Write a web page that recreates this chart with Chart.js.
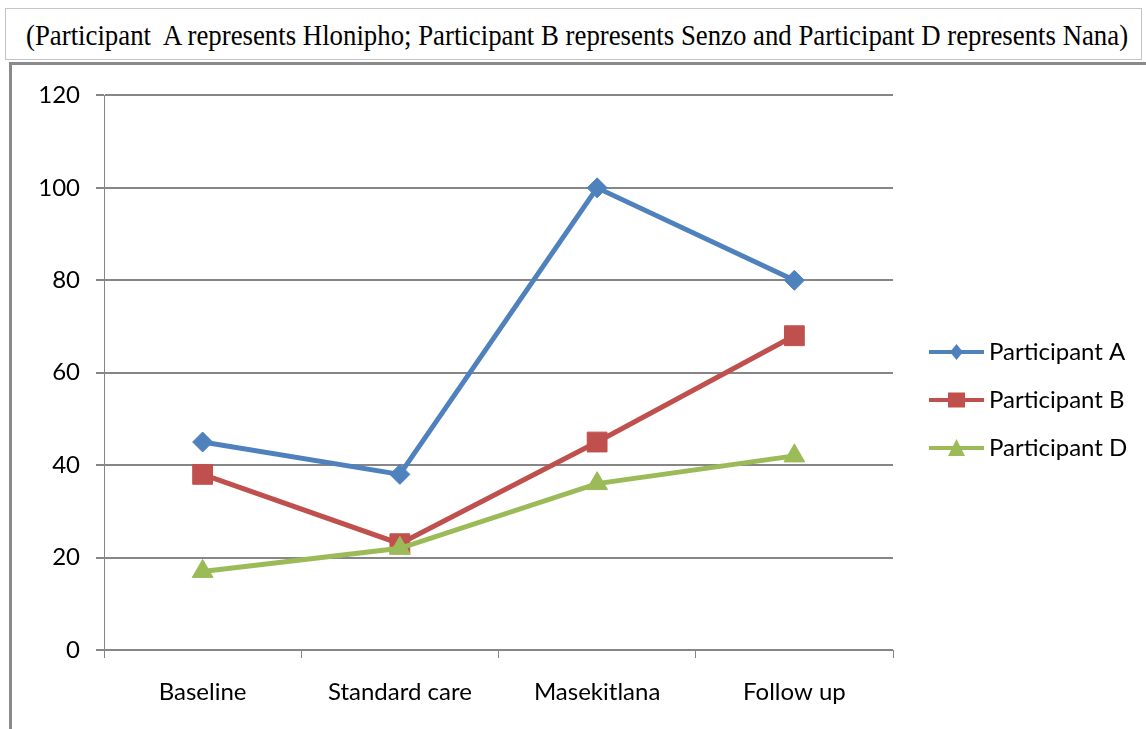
<!DOCTYPE html>
<html>
<head>
<meta charset="utf-8">
<script src="https://cdn.jsdelivr.net/npm/chart.js@4.4.1/dist/chart.umd.min.js"></script>
<style>
    body { margin: 0; background: #fff; width: 1146px; height: 729px; overflow: hidden; position: relative; }
    #caption {
        position: absolute; left: 5px; top: 8px; width: 1137px; height: 52px;
        box-sizing: border-box; border: 1px solid #c4c4c4;
        color: #000;
    }
    #caption span {
        position: absolute; left: 20px; top: 11px;
        font-family: "Liberation Serif", serif; font-size: 26.8px; line-height: 30px;
        white-space: pre; transform: scaleY(1.12); transform-origin: 0 50%;
    }
    #box { position: absolute; left: 9px; top: 62px; right: 0; bottom: 0; border-left: 3px solid #8a8a8a; border-top: 3px solid #8a8a8a; }
    #wrap { position: absolute; left: 12px; top: 65px; width: 1134px; height: 664px; }
</style>
</head>
<body>
<div id="caption"><span>(Participant  A represents Hlonipho; Participant B represents Senzo and Participant D represents Nana)</span></div>
<div id="box"></div>
<div id="wrap"><canvas id="chart"></canvas></div>
<script>
const categories = ['Baseline', 'Standard care', 'Masekitlana', 'Follow up'];
const seriesNames = ['Participant A', 'Participant B', 'Participant D'];
const participantA = [45, 38, 100, 80];
const participantB = [38, 23, 45, 68];
const participantD = [17, 22, 36, 42];
const yTicks = [0, 20, 40, 60, 80, 100, 120];

const colors = ['#4F81BD', '#C0504D', '#9BBB59'];
const fontFamily = 'Lato, "Noto Sans", sans-serif';
const fontSize = 24;

// legend symbol: short thick line with the marker in the middle
function legendSymbol(color, shape) {
    const c = document.createElement('canvas');
    c.width = 74;
    c.height = 22;
    const ctx = c.getContext('2d');
    ctx.strokeStyle = color;
    ctx.fillStyle = color;
    ctx.lineWidth = 4;
    ctx.beginPath();
    ctx.moveTo(19, 11);
    ctx.lineTo(74, 11);
    ctx.stroke();
    const cx = 46.5, cy = 11;
    ctx.beginPath();
    if (shape === 'diamond') {
        ctx.moveTo(cx, cy - 8); ctx.lineTo(cx + 6.5, cy); ctx.lineTo(cx, cy + 8); ctx.lineTo(cx - 6.5, cy);
    } else if (shape === 'square') {
        ctx.rect(cx - 8.5, cy - 7.5, 17, 15);
    } else {
        ctx.moveTo(cx, cy - 9); ctx.lineTo(cx + 8.5, cy + 8); ctx.lineTo(cx - 8.5, cy + 8);
    }
    ctx.closePath();
    ctx.fill();
    return c;
}
const symbols = [legendSymbol(colors[0], 'diamond'), legendSymbol(colors[1], 'square'), legendSymbol(colors[2], 'triangle')];

// width of the longest legend text so the plot keeps its right edge
const measureCtx = document.createElement('canvas').getContext('2d');
measureCtx.font = fontSize + 'px ' + fontFamily;
const legendTextWidth = Math.max(...seriesNames.map(n => measureCtx.measureText(n).width));

function drawChart() {
    const chartCtx = document.getElementById('chart').getContext('2d');

    const makeSet = (i, data, style, radius) => ({
        label: seriesNames[i],
        data,
        borderColor: colors[i],
        backgroundColor: colors[i],
        borderWidth: 5,
        pointStyle: style,
        pointRadius: radius,
        pointBorderWidth: 1,
        pointBorderColor: colors[i],
        pointBackgroundColor: colors[i],
        order: 3 - i
    });

    new Chart(chartCtx, {
        type: 'line',
        data: {
            labels: categories,
            datasets: [
                makeSet(0, participantA, 'rectRot', 10),
                makeSet(1, participantB, 'rect', 14),
                makeSet(2, participantD, 'triangle', 12)
            ]
        },
        options: {
            responsive: true,
            maintainAspectRatio: false,
            animation: false,
            events: [],
            layout: {
                padding: { top: 28, left: 0, bottom: 22, right: 147 - legendTextWidth }
            },
            elements: {
                line: { tension: 0 }
            },
            plugins: {
                tooltip: { enabled: false },
                legend: {
                    position: 'right',
                    labels: {
                        usePointStyle: true,
                        pointStyleWidth: 60,
                        padding: 24,
                        color: '#000',
                        font: { family: fontFamily, size: fontSize },
                        sort: (a, b) => a.datasetIndex - b.datasetIndex,
                        generateLabels(chart) {
                            const items = Chart.defaults.plugins.legend.labels.generateLabels(chart);
                            items.forEach(item => { item.pointStyle = symbols[item.datasetIndex]; });
                            return items;
                        }
                    }
                }
            },
            scales: {
                x: {
                    offset: true,
                    grid: { offset: true, drawOnChartArea: false, tickLength: 8, color: '#868686', lineWidth: 1 },
                    border: { display: true, color: '#868686', width: 1 },
                    ticks: { color: '#000', padding: 20, maxRotation: 0, font: { family: fontFamily, size: fontSize } },
                    afterFit: scale => { scale.height = 57; }
                },
                y: {
                    min: yTicks[0],
                    max: yTicks[yTicks.length - 1],
                    ticks: { stepSize: yTicks[1] - yTicks[0], color: '#000', padding: 16, font: { family: fontFamily, size: fontSize } },
                    grid: { color: '#868686', lineWidth: 2, tickLength: 8 },
                    border: { display: true, color: '#868686', width: 1 },
                    afterFit: scale => { scale.width = 92; }
                }
            }
        }
    });
}

drawChart();
</script>
</body>
</html>
